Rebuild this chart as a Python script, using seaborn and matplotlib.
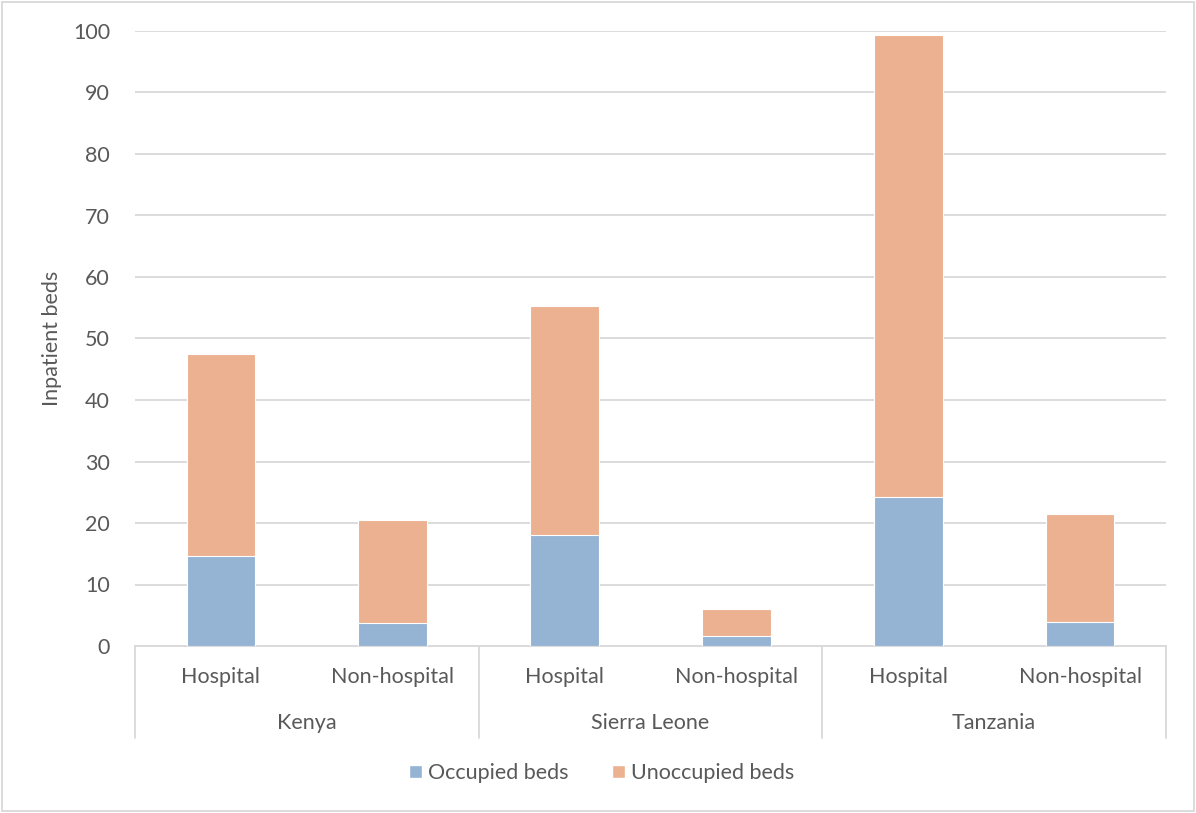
import matplotlib
matplotlib.use("Agg")
import matplotlib.pyplot as plt
import seaborn as sns
import pandas as pd
import numpy as np
from matplotlib.patches import Patch

countries = ["Kenya", "Sierra Leone", "Tanzania"]
facility_types = ["Hospital", "Non-hospital"]
occupied = [14.6, 3.8, 18.1, 1.6, 24.3, 3.9]
unoccupied = [32.9, 16.7, 37.2, 4.4, 75.0, 17.6]
y_ticks = [0, 10, 20, 30, 40, 50, 60, 70, 80, 90, 100]

BLUE = "#95b4d3"
ORANGE = "#ecb190"
TEXT = "#595959"
GRID = "#d9d9d9"
FS = 15.5

sns.set_theme(style="white")
plt.rcParams["font.family"] = ["Lato", "DejaVu Sans"]

labels = [f"{c}|{t}" for c in countries for t in facility_types]
df = pd.DataFrame({
    "bar": labels,
    "occupied": occupied,
    "total": np.array(occupied) + np.array(unoccupied),
})

fig = plt.figure(figsize=(11.96, 8.13), dpi=100)
ax = fig.add_axes([135 / 1196, 1 - 646 / 813, (1166 - 135) / 1196, (646 - 31) / 813])

# Stacked bars: full height in orange, occupied part drawn over it in blue
sns.barplot(data=df, x="bar", y="total", color=ORANGE, saturation=1, width=0.4,
            edgecolor="white", linewidth=0.8, ax=ax, zorder=3)
sns.barplot(data=df, x="bar", y="occupied", color=BLUE, saturation=1, width=0.4,
            edgecolor="white", linewidth=0.8, ax=ax, zorder=4)

ax.set_xlim(-0.5, len(labels) - 0.5)
ax.set_ylim(0, 100)
ax.set_yticks(y_ticks)
ax.set_yticklabels([str(v) for v in y_ticks], color=TEXT, fontsize=FS)
ax.tick_params(axis="y", length=0, pad=18)
ax.yaxis.grid(True, color=GRID, linewidth=1.3, zorder=0)
ax.set_axisbelow(True)
for side in ["top", "right", "left"]:
    ax.spines[side].set_visible(False)
ax.spines["bottom"].set_color(GRID)
ax.spines["bottom"].set_linewidth(1.3)

ax.set_ylabel("Inpatient beds", color=TEXT, fontsize=FS)
ax.yaxis.set_label_coords(-0.071, 0.5)
ax.set_xlabel("")
ax.set_xticks([])

# Two-level category axis below the plot
trans = ax.get_xaxis_transform()
n_types = len(facility_types)
for i, lab in enumerate(labels):
    ax.text(i, -0.05, lab.split("|")[1], transform=trans, ha="center", va="center",
            color=TEXT, fontsize=FS, clip_on=False)
for g, c in enumerate(countries):
    center = g * n_types + (n_types - 1) / 2
    ax.text(center, -0.125, c, transform=trans, ha="center", va="center",
            color=TEXT, fontsize=FS, clip_on=False)
for g in range(len(countries) + 1):
    xpos = g * n_types - 0.5
    ax.plot([xpos, xpos], [0, -0.15], transform=trans, color=GRID, linewidth=1.3,
            clip_on=False)

# Legend
handles = [Patch(facecolor=BLUE, label="Occupied beds"),
           Patch(facecolor=ORANGE, label="Unoccupied beds")]
fig.legend(handles=handles, loc="center", bbox_to_anchor=(0.503, 1 - 773 / 813), ncol=2,
           frameon=False, fontsize=FS, labelcolor=TEXT, handlelength=0.6,
           handleheight=0.6, handletextpad=0.3, columnspacing=2.0)

# Outer frame
fig.patches.append(plt.Rectangle((0.002, 0.002), 0.996, 0.996, transform=fig.transFigure,
                                 fill=False, edgecolor=GRID, linewidth=1.3))

fig.savefig("out.png", dpi=100)
